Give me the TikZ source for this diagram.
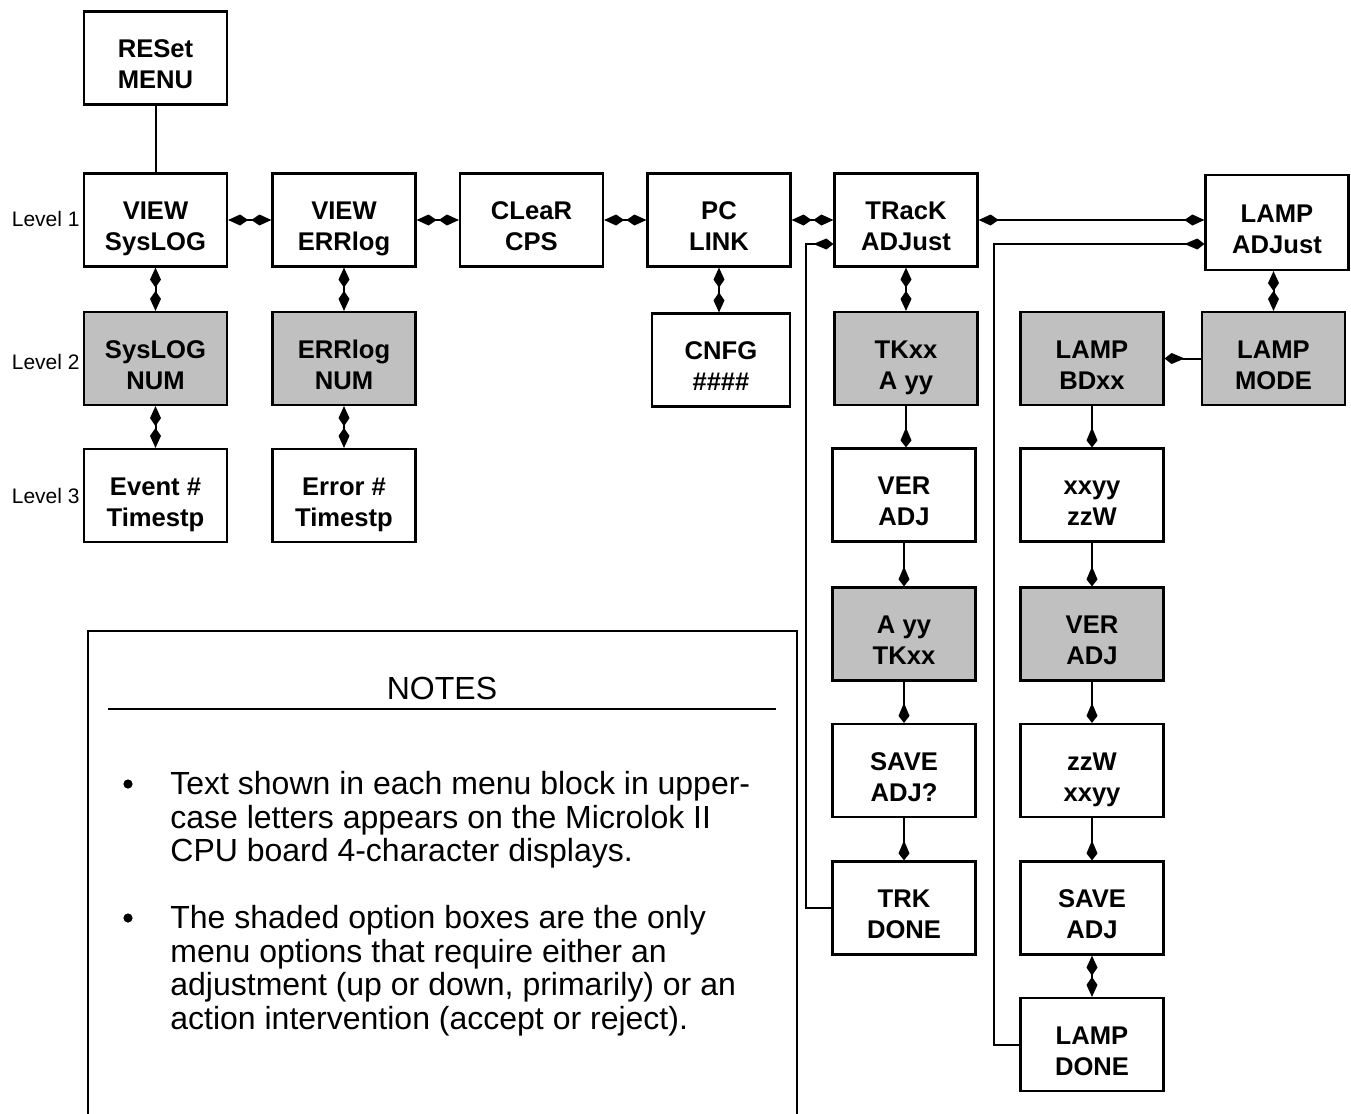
\documentclass[tikz,border=0pt]{standalone}
\usepackage{fontspec}
\setmainfont{Liberation Sans}
\usetikzlibrary{arrows.meta,calc}
\definecolor{shade}{RGB}{192,192,192}
\newcommand\bxt[2]{\rule{0pt}{18pt}#1\\#2\rule[-3pt]{0pt}{3pt}}
\begin{document}
\begin{tikzpicture}[x=0.5pt,y=-0.5pt,
  box/.style={draw, line width=1.1pt, minimum width=71.5pt, minimum height=46.5pt,
    inner sep=0pt, align=center, fill=white,
    font=\fontsize{12.8}{15.5}\selectfont\bfseries},
  shaded/.style={box, fill=shade},
  conn/.style={line width=1pt},
  both/.style={conn, {Kite[length=10pt,width=5.5pt,inset=4pt]}-{Kite[length=10pt,width=5.5pt,inset=4pt]}},
  one/.style={conn, -{Kite[length=10pt,width=5.5pt,inset=6.5pt]}},
  lvl/.style={font=\fontsize{10.5}{12}\selectfont, inner sep=0pt},
  notefont/.style={font=\fontsize{16}{17}\selectfont, inner sep=0pt}]
\useasboundingbox (0,0) rectangle (1351,1114);

% level 1 row
\node[box] (reset) at (155.5,58) {\bxt{RESet}{MENU}};
\node[box] (vsys) at (155.5,220) {\bxt{VIEW}{SysLOG}};
\node[box] (verr) at (344,220) {\bxt{VIEW}{ERRlog}};
\node[box] (clr) at (531.5,220) {\bxt{CLeaR}{CPS}};
\node[box] (pc) at (719,220) {\bxt{PC}{LINK}};
\node[box] (trk) at (906,220) {\bxt{TRacK}{ADJust}};
\node[box, minimum height=47.5pt] (lampadj) at (1277,222.5) {\bxt{LAMP}{ADJust}};

% level 2 row
\node[shaded] (sysnum) at (155.5,358.5) {\bxt{SysLOG}{NUM}};
\node[shaded] (errnum) at (344,358.5) {\bxt{ERRlog}{NUM}};
\node[box, minimum width=69pt] (cnfg) at (721,360) {\bxt{CNFG}{\#\#\#\#}};
\node[shaded] (tkxx) at (906,358.5) {\bxt{TKxx}{A yy}};
\node[shaded] (lampbd) at (1092,358.5) {\bxt{LAMP}{BDxx}};
\node[shaded] (lampmode) at (1273.5,358.5) {\bxt{LAMP}{MODE}};

% level 3 row
\node[box] (event) at (155.5,495.5) {\bxt{Event \#}{Timestp}};
\node[box] (error) at (344,495.5) {\bxt{Error \#}{Timestp}};

% track column
\node[box] (verad) at (904,495) {\bxt{VER}{ADJ}};
\node[shaded] (ayy) at (904,634) {\bxt{A yy}{TKxx}};
\node[box] (savq) at (904,770.5) {\bxt{SAVE}{ADJ?}};
\node[box] (trkdone) at (904,908) {\bxt{TRK}{DONE}};

% lamp column
\node[box] (xxyy) at (1092,495) {\bxt{xxyy}{zzW}};
\node[shaded] (ver2) at (1092,634) {\bxt{VER}{ADJ}};
\node[box] (zzw) at (1092,770.5) {\bxt{zzW}{xxyy}};
\node[box] (save2) at (1092,908) {\bxt{SAVE}{ADJ}};
\node[box] (lampdone) at (1092,1044.5) {\bxt{LAMP}{DONE}};

% level labels
\node[lvl, anchor=base east] (l1) at (80,226.5) {Level 1};
\node[lvl, anchor=base east] (l2) at (80,369.5) {Level 2};
\node[lvl, anchor=base east] (l3) at (80,503.5) {Level 3};

% connectors
\draw[conn] (reset) -- (vsys);
\draw[both] (vsys) -- (verr);
\draw[both] (verr) -- (clr);
\draw[both] (clr) -- (pc);
\draw[both] (pc) -- (trk);
\draw[both] (trk.east) -- (trk.east -| lampadj.west);
\draw[both] (vsys) -- (sysnum);
\draw[both] (sysnum) -- (event);
\draw[both] (verr) -- (errnum);
\draw[both] (errnum) -- (error);
\draw[both] (pc.south) -- (pc.south |- cnfg.north);
\draw[both] (trk) -- (tkxx);
\draw[both] (lampmode.north |- lampadj.south) -- (lampmode.north);
\draw[one] (lampmode) -- (lampbd);
\draw[one] (tkxx.south) -- (tkxx.south |- verad.north);
\draw[one] (verad) -- (ayy);
\draw[one] (ayy) -- (savq);
\draw[one] (savq) -- (trkdone);
\draw[one] (lampbd) -- (xxyy);
\draw[one] (xxyy) -- (ver2);
\draw[one] (ver2) -- (zzw);
\draw[one] (zzw) -- (save2);
\draw[both] (save2) -- (lampdone);
\draw[one] (trkdone.west) -- ++(-25,0) |- ($(trk.west)+(0,24)$);
\draw[one] (lampdone.west) -- ++(-25,0) |- ($(lampadj.west)+(0,21.5)$);

% notes panel
\draw[line width=1.1pt] (88,1118) -- (88,631) -- (797,631) -- (797,1118);
\node[notefont] (notes) at (442,688) {NOTES};
\draw[line width=1.1pt] (108,709) -- (776,709);
\fill (128,784) circle[radius=2.3pt];
\fill (128,918) circle[radius=2.3pt];
\node[notefont, anchor=base west] (n1) at (170,794) {Text shown in each menu block in upper-};
\node[notefont, anchor=base west] (n2) at (170,828) {case letters appears on the Microlok II};
\node[notefont, anchor=base west] (n3) at (170,861) {CPU board 4-character displays.};
\node[notefont, anchor=base west] (n4) at (170,928) {The shaded option boxes are the only};
\node[notefont, anchor=base west] (n5) at (170,962) {menu options that require either an};
\node[notefont, anchor=base west] (n6) at (170,995) {adjustment (up or down, primarily) or an};
\node[notefont, anchor=base west] (n7) at (170,1029) {action intervention (accept or reject).};
\end{tikzpicture}
\end{document}
